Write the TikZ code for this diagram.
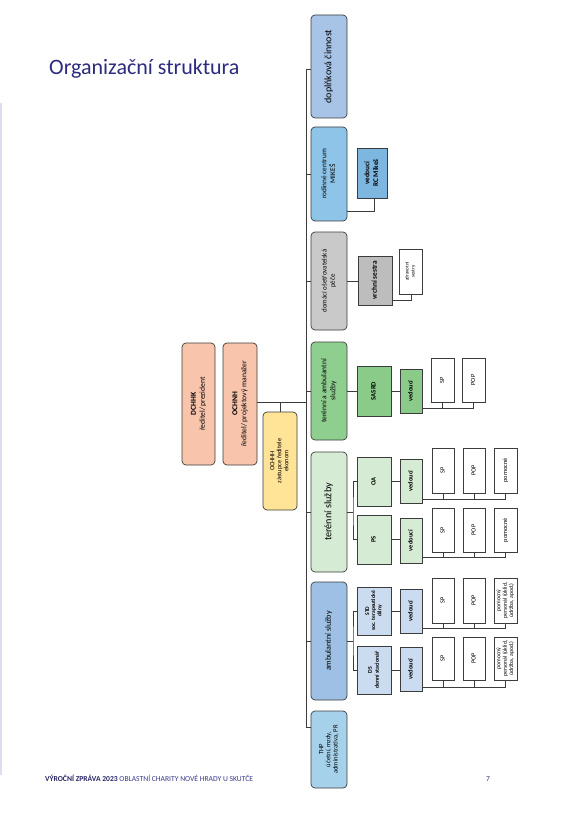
\documentclass[tikz,border=0pt]{standalone}
\usepackage{fontspec}
\setmainfont{Carlito}
\definecolor{lc}{HTML}{3C3C3C}
\definecolor{titlec}{HTML}{2D2B7E}
\definecolor{footb}{HTML}{2A2868}
\definecolor{footr}{HTML}{3D3A8E}
\definecolor{sideline}{HTML}{DCDCF2}
\definecolor{salmon}{HTML}{F8C4AC}
\definecolor{yellowc}{HTML}{FFE497}
\definecolor{dopblue}{HTML}{A7C3E5}
\definecolor{rcblue}{HTML}{8DC4E8}
\definecolor{rcvblue}{HTML}{7DB6DF}
\definecolor{grayA}{HTML}{C9C9C9}
\definecolor{grayB}{HTML}{BDBDBD}
\definecolor{greenA}{HTML}{8ECF8F}
\definecolor{greenB}{HTML}{8ACB8A}
\definecolor{lgreen}{HTML}{D5EBD3}
\definecolor{ablue}{HTML}{9EC0E4}
\definecolor{lblue}{HTML}{CCDCF0}
\definecolor{thpblue}{HTML}{A6D1EB}
\newcommand{\fs}[1]{\fontsize{#1}{\fpeval{#1*1.2}}\selectfont}
\newcommand{\fst}[1]{\fontsize{#1}{\fpeval{#1*1.08}}\selectfont}
\newcommand{\bx}[7]{\node[#6, minimum width={#4-#2}, minimum height={#5-#3}] (#1) at ({(#2+#4)/2},{(#3+#5)/2}) {\rotatebox{90}{\begin{tabular}{@{}c@{}}#7\end{tabular}}};}
\tikzset{
  rbox/.style={draw=lc, rounded corners=4pt, line width=0.7pt, inner sep=0pt, text=black},
  sbox/.style={draw=lc, line width=0.6pt, inner sep=0pt, text=black},
  conn/.style={draw=lc, line width=0.6pt},
}
\begin{document}
\begin{tikzpicture}[x=1pt,y=-1pt]
\useasboundingbox (0,0) rectangle (582,826);
\fill[white] (0,0) rectangle (582,826);
% side line and texts
\draw[sideline, line width=1.5pt] (1,103) -- (1,775);
\node[anchor=base west, inner sep=0pt, text=titlec, font=\fs{22}] (title) at (49,75) {Organizační struktura};
\node[anchor=base west, inner sep=0pt, font=\fs{7.6}] (foot) at (45,781) {\textcolor{footb}{\bfseries VÝROČNÍ ZPRÁVA 2023} \textcolor{footr}{OBLASTNÍ CHARITY NOVÉ HRADY U SKUTČE}};
\node[anchor=base, inner sep=0pt, font=\fs{7.6}, text=footr] (page) at (488,781) {7};

% left boxes
\bx{dchhk}{182}{343}{215}{465}{rbox, fill=salmon, font=\fs{7.6}}{\textbf{DCHHK}\\ředitel/ prezident}
\bx{ochnh}{223}{343}{257}{465}{rbox, fill=salmon, font=\fs{7.6}}{\textbf{OCHNH}\\ředitel/ projektový manažer}
\bx{ochhh}{263}{412}{297}{510}{rbox, fill=yellowc, font=\fst{6.5}}{OCHHH\\zástupce ředitele\\ekonom}

% level 1
\bx{dop}{311}{15}{347}{118}{rbox, fill=dopblue, font=\fs{10}}{doplňková činnost}
\bx{rc}{311}{127}{347}{221}{rbox, fill=rcblue, font=\fs{7.3}}{rodinné centrum\\MIKEŠ}
\bx{dom}{311}{232}{347}{330}{rbox, fill=grayA, font=\fs{6.9}}{domácí ošetřovatelská\\péče}
\bx{tas}{311}{342}{347}{440}{rbox, fill=greenA, font=\fs{7.5}}{terénní a ambulantní\\služby}
\bx{ts}{311}{452}{347}{572}{rbox, fill=lgreen, font=\fs{10.2}}{terénní služby}
\bx{as}{311}{582}{347}{700}{rbox, fill=ablue, font=\fs{8.1}}{ambulantní služby}
\bx{thp}{311}{711}{347}{788}{rbox, fill=thpblue, font=\fst{6.6}}{THP\\účetní, mzdy,\\administrativa, PR}

% level 2+
\bx{rcv}{357}{148}{387}{198}{sbox, fill=rcvblue, font=\fs{7.2}}{\textbf{vedoucí}\\\textbf{RC Mikeš}}
\bx{vs}{358}{256}{392}{305}{sbox, fill=grayB, font=\fs{7.3}}{\textbf{vrchní sestra}}
\bx{zs}{399}{249}{422}{294}{sbox, fill=white, font=\fs{5}}{zdravotní\\sestry}

\bx{sasrd}{357}{366}{391}{416}{sbox, fill=greenB, font=\fs{6.7}}{\textbf{SASRD}}
\bx{vtas}{400}{369}{422}{413}{sbox, fill=greenB, font=\fs{6.5}}{\textbf{vedoucí}}
\bx{sptas}{431}{358}{454}{402}{sbox, fill=white, font=\fs{6.3}}{SP}
\bx{poptas}{462}{358}{485}{402}{sbox, fill=white, font=\fs{6.3}}{POP}

\bx{oa}{357}{457}{391}{506}{sbox, fill=lgreen, font=\fs{6.5}}{\textbf{OA}}
\bx{ps}{357}{515}{391}{564}{sbox, fill=lgreen, font=\fs{6.5}}{\textbf{PS}}
\bx{voa}{400}{459}{422}{503}{sbox, fill=lgreen, font=\fs{6.5}}{\textbf{vedoucí}}
\bx{vps}{400}{518}{422}{563}{sbox, fill=lgreen, font=\fs{6.5}}{\textbf{vedoucí}}
\bx{spoa}{432}{448}{454}{493}{sbox, fill=white, font=\fs{6.3}}{SP}
\bx{popoa}{463}{448}{485}{493}{sbox, fill=white, font=\fs{6.3}}{POP}
\bx{pomoa}{494}{448}{517}{493}{sbox, fill=white, font=\fs{6.3}}{pomocné}
\bx{spps}{432}{508}{454}{552}{sbox, fill=white, font=\fs{6.3}}{SP}
\bx{popps}{463}{508}{485}{552}{sbox, fill=white, font=\fs{6.3}}{POP}
\bx{pomps}{494}{508}{517}{552}{sbox, fill=white, font=\fs{6.3}}{pomocné}

\bx{std}{357}{587}{391}{635}{sbox, fill=lblue, font=\fst{5.6}}{\textbf{STD}\\\textbf{soc. terapeutické}\\\textbf{dílny}}
\bx{ds}{357}{646}{391}{694}{sbox, fill=lblue, font=\fs{5.8}}{\textbf{DS}\\\textbf{denní stacionář}}
\bx{vstd}{400}{589}{422}{633}{sbox, fill=lblue, font=\fs{6.5}}{\textbf{vedoucí}}
\bx{vds}{400}{647}{422}{691}{sbox, fill=lblue, font=\fs{6.5}}{\textbf{vedoucí}}
\bx{spstd}{432}{578}{454}{623}{sbox, fill=white, font=\fs{6.3}}{SP}
\bx{popstd}{463}{578}{485}{623}{sbox, fill=white, font=\fs{6.3}}{POP}
\bx{pomstd}{494}{578}{517}{623}{sbox, fill=white, font=\fst{5.8}}{pomocný\\personál (úklid,\\údržba, apod.)}
\bx{spds}{432}{637}{454}{680}{sbox, fill=white, font=\fs{6.3}}{SP}
\bx{popds}{463}{637}{485}{680}{sbox, fill=white, font=\fs{6.3}}{POP}
\bx{pomds}{494}{637}{517}{680}{sbox, fill=white, font=\fst{5.8}}{pomocný\\personál (úklid,\\údržba, apod.)}

% trunk
\coordinate (ttop) at (306,69);
\coordinate (tbot) at (306,727);
\draw[conn] (ttop) -- (tbot);
\draw[conn] (ttop) -- (ttop -| dop.west);
\draw[conn] (tbot) -- (tbot -| thp.west);
\foreach \b in {rc,dom,tas,ts,as} {\draw[conn] (\b.west) -- (\b.west -| ttop);}
% left connection
\coordinate (lj) at (306,402);
\draw[conn] (lj) -- (lj -| ochnh.east);
\draw[conn] (lj -| ochhh.north) -- (ochhh.north);

% rodinne centrum
\coordinate (rcj) at (374,211);
\draw[conn] (rcj -| rc.east) -- (rcj) -- (rcj |- rcv.south);
% domaci
\draw[conn] (dom.east) -- (dom.east -| vs.west);
\coordinate (vsj) at (411,300);
\draw[conn] (vsj -| vs.east) -- (vsj) -- (vsj |- zs.south);
% tas
\draw[conn] (tas.east) -- (tas.east -| sasrd.west);
\draw[conn] (sasrd.east) -- (sasrd.east -| vtas.west);
\coordinate (tasb) at (473,408);
\draw[conn] (tasb -| vtas.east) -- (tasb -| poptas.south);
\foreach \b in {sptas,poptas} {\draw[conn] (\b.south) -- (\b.south |- tasb);}
% ts
\coordinate (tsj) at (353,512);
\draw[conn] (ts.east) -- (tsj);
\draw[conn] (oa.west) -| (tsj) |- (ps.west);
\draw[conn] (oa.east) -- (oa.east -| voa.west);
\draw[conn] (ps.east) -- (ps.east -| vps.west);
\coordinate (oab) at (0,499);
\draw[conn] (oab -| voa.east) -- (oab -| pomoa.south);
\foreach \b in {spoa,popoa,pomoa} {\draw[conn] (\b.south) -- (\b.south |- oab);}
\coordinate (psb) at (0,557);
\draw[conn] (psb -| vps.east) -- (psb -| pomps.south);
\foreach \b in {spps,popps,pomps} {\draw[conn] (\b.south) -- (\b.south |- psb);}
% as
\coordinate (asj) at (353,641);
\draw[conn] (as.east) -- (asj);
\draw[conn] (std.west) -| (asj) |- (ds.west);
\draw[conn] (std.east) -- (std.east -| vstd.west);
\draw[conn] (ds.east) -- (ds.east -| vds.west);
\coordinate (stdb) at (0,628);
\draw[conn] (stdb -| vstd.east) -- (stdb -| pomstd.south);
\foreach \b in {spstd,popstd,pomstd} {\draw[conn] (\b.south) -- (\b.south |- stdb);}
\coordinate (dsb) at (0,687);
\draw[conn] (dsb -| vds.east) -- (dsb -| pomds.south);
\foreach \b in {spds,popds,pomds} {\draw[conn] (\b.south) -- (\b.south |- dsb);}
\end{tikzpicture}
\end{document}
